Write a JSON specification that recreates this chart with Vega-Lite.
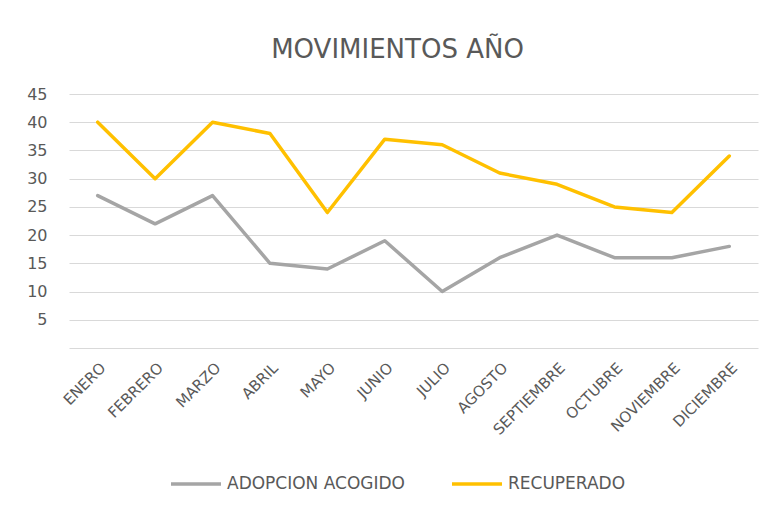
{
  "$schema": "https://vega.github.io/schema/vega-lite/v6.json",
  "autosize": {"type": "none"},
  "width": 689,
  "height": 254,
  "padding": {"left": 69, "top": 94, "right": 18, "bottom": 161},
  "background": "white",
  "title": {
    "text": "MOVIMIENTOS AÑO",
    "font": "DejaVu Sans",
    "fontSize": 26,
    "fontWeight": "normal",
    "color": "#595959",
    "anchor": "middle",
    "dx": -16,
    "offset": 23
  },
  "data": {
    "values": [
      {"mes": "ENERO", "serie": "ADOPCION ACOGIDO", "valor": 27},
      {"mes": "FEBRERO", "serie": "ADOPCION ACOGIDO", "valor": 22},
      {"mes": "MARZO", "serie": "ADOPCION ACOGIDO", "valor": 27},
      {"mes": "ABRIL", "serie": "ADOPCION ACOGIDO", "valor": 15},
      {"mes": "MAYO", "serie": "ADOPCION ACOGIDO", "valor": 14},
      {"mes": "JUNIO", "serie": "ADOPCION ACOGIDO", "valor": 19},
      {"mes": "JULIO", "serie": "ADOPCION ACOGIDO", "valor": 10},
      {"mes": "AGOSTO", "serie": "ADOPCION ACOGIDO", "valor": 16},
      {"mes": "SEPTIEMBRE", "serie": "ADOPCION ACOGIDO", "valor": 20},
      {"mes": "OCTUBRE", "serie": "ADOPCION ACOGIDO", "valor": 16},
      {"mes": "NOVIEMBRE", "serie": "ADOPCION ACOGIDO", "valor": 16},
      {"mes": "DICIEMBRE", "serie": "ADOPCION ACOGIDO", "valor": 18},
      {"mes": "ENERO", "serie": "RECUPERADO", "valor": 40},
      {"mes": "FEBRERO", "serie": "RECUPERADO", "valor": 30},
      {"mes": "MARZO", "serie": "RECUPERADO", "valor": 40},
      {"mes": "ABRIL", "serie": "RECUPERADO", "valor": 38},
      {"mes": "MAYO", "serie": "RECUPERADO", "valor": 24},
      {"mes": "JUNIO", "serie": "RECUPERADO", "valor": 37},
      {"mes": "JULIO", "serie": "RECUPERADO", "valor": 36},
      {"mes": "AGOSTO", "serie": "RECUPERADO", "valor": 31},
      {"mes": "SEPTIEMBRE", "serie": "RECUPERADO", "valor": 29},
      {"mes": "OCTUBRE", "serie": "RECUPERADO", "valor": 25},
      {"mes": "NOVIEMBRE", "serie": "RECUPERADO", "valor": 24},
      {"mes": "DICIEMBRE", "serie": "RECUPERADO", "valor": 34}
    ]
  },
  "mark": {"type": "line", "strokeWidth": 3.5, "strokeCap": "round", "strokeJoin": "round"},
  "encoding": {
    "x": {
      "field": "mes",
      "type": "ordinal",
      "sort": null,
      "scale": {"type": "point", "padding": 0.5},
      "axis": {
        "title": null,
        "labelAngle": -45,
        "labelAlign": "right",
        "labelBaseline": "top",
        "labelFont": "DejaVu Sans",
        "labelFontSize": 15,
        "labelColor": "#595959",
        "labelPadding": 12,
        "ticks": false,
        "domain": false,
        "grid": false
      }
    },
    "y": {
      "field": "valor",
      "type": "quantitative",
      "scale": {"domain": [0, 45], "nice": false},
      "axis": {
        "title": null,
        "values": [0, 5, 10, 15, 20, 25, 30, 35, 40, 45],
        "labelExpr": "datum.value == 0 ? '' : datum.label",
        "labelFont": "DejaVu Sans",
        "labelFontSize": 16,
        "labelColor": "#595959",
        "labelPadding": 22,
        "ticks": false,
        "domain": false,
        "grid": true,
        "gridColor": "#D9D9D9",
        "gridWidth": 1
      }
    },
    "color": {
      "field": "serie",
      "type": "nominal",
      "scale": {"domain": ["ADOPCION ACOGIDO", "RECUPERADO"], "range": ["#A5A5A5", "#FFC000"]},
      "legend": {
        "title": null,
        "orient": "none",
        "direction": "horizontal",
        "legendX": 100,
        "legendY": 363,
        "symbolType": "stroke",
        "symbolSize": 2500,
        "symbolStrokeWidth": 3.5,
        "labelFont": "DejaVu Sans",
        "labelFontSize": 17,
        "labelColor": "#595959",
        "labelOffset": 4,
        "columnPadding": 40,
        "labelLimit": 300
      }
    }
  },
  "config": {"view": {"stroke": null}}
}
